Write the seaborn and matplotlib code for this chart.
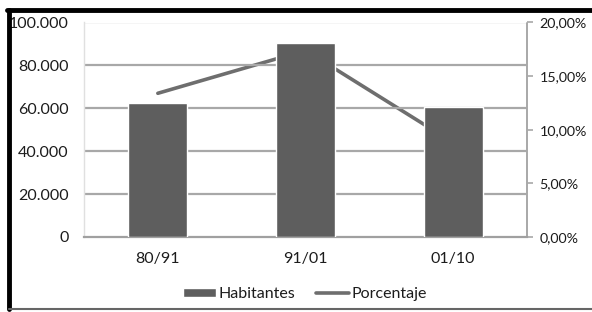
import numpy as np
import pandas as pd
import matplotlib
matplotlib.use("Agg")
import matplotlib.pyplot as plt
import seaborn as sns
from matplotlib.lines import Line2D
from matplotlib.patches import Patch
from matplotlib.ticker import FuncFormatter

periodos = ["80/91", "91/01", "01/10"]
habitantes = [62500, 90600, 60600]
porcentaje = [13.4, 17.4, 8.8]

df = pd.DataFrame({"periodo": periodos, "hab": habitantes, "pct": porcentaje})

sns.set_theme(style="white")
plt.rcParams["font.family"] = ["Lato", "DejaVu Sans"]

txt = "#1c1c1c"
fs = 11.5
axis_grey = "#a8a8a8"

fig = plt.figure(figsize=(5.92, 3.12), dpi=100)
ax = fig.add_axes([84 / 592, 1 - 237 / 312, (527 - 84) / 592, (237 - 22.5) / 312])
ax2 = ax.twinx()

# line goes behind the bars
ax2.set_zorder(0)
ax.set_zorder(1)
ax.patch.set_visible(False)

sns.barplot(data=df, x="periodo", y="hab", color="#5e5e5e", width=0.4, ax=ax,
            saturation=1, zorder=3)
sns.lineplot(data=df, x="periodo", y="pct", color="#6e6e6e", linewidth=2.6,
             ax=ax2, sort=False)

ax.set_ylim(0, 100000)
ax.set_yticks(np.arange(0, 100001, 20000))
ax.yaxis.set_major_formatter(FuncFormatter(lambda v, p: "0" if v == 0 else f"{int(v):,}".replace(",", ".")))
ax2.set_ylim(0, 20)
ax2.set_yticks(np.arange(0, 20.1, 5))
ax2.yaxis.set_major_formatter(FuncFormatter(lambda v, p: f"{v:.2f}%".replace(".", ",")))
ax.set_xlim(-0.5, 2.5)

ax2.grid(False)
ax.grid(False)
for y in np.arange(20000, 100001, 20000):
    ax.axhline(y, color=axis_grey, lw=1.6, zorder=1)
# right axis line
ax.axvline(2.5, color=axis_grey, lw=1.4, zorder=1, clip_on=False)

ax.set_xlabel("")
ax.set_ylabel("")
ax2.set_xlabel("")
ax2.set_ylabel("")

for a in (ax, ax2):
    for s in a.spines.values():
        s.set_visible(False)
ax.spines["bottom"].set_visible(True)
ax.spines["bottom"].set_edgecolor("#a0a0a0")
ax.spines["bottom"].set_linewidth(1.6)
ax.spines["left"].set_visible(True)
ax.spines["left"].set_edgecolor("#e0e0e0")
ax.spines["left"].set_linewidth(1)

ax.tick_params(axis="y", length=0, pad=11, labelsize=fs, labelcolor=txt)
ax.tick_params(axis="x", length=0, pad=11, labelsize=fs, labelcolor=txt)
ax2.tick_params(axis="y", right=True, length=4, width=1.2, color=axis_grey, pad=5,
                labelsize=10.3, labelcolor=txt)

handles = [Patch(facecolor="#5e5e5e", label="Habitantes"),
           Line2D([0], [0], color="#6e6e6e", lw=2.6, label="Porcentaje")]
leg = fig.legend(handles=handles, loc="center", bbox_to_anchor=(305 / 592, 1 - 294 / 312), ncol=2,
                 frameon=False, fontsize=fs, handlelength=2.05, handleheight=0.45,
                 handletextpad=0.15, columnspacing=1.3)
for t in leg.get_texts():
    t.set_color(txt)

# black frame around the picture
fig.add_artist(Line2D([9 / 592, 9 / 592], [1 - 10 / 312, 1 - 309 / 312], color="black", lw=3.5,
                      transform=fig.transFigure))
fig.add_artist(Line2D([7 / 592, 1], [1 - 10 / 312, 1 - 10 / 312], color="black", lw=3.5,
                      transform=fig.transFigure))
fig.add_artist(Line2D([9 / 592, 1], [1 - 309 / 312, 1 - 309 / 312], color="#666666", lw=1.5,
                      transform=fig.transFigure))

fig.savefig("out.png", dpi=100)
